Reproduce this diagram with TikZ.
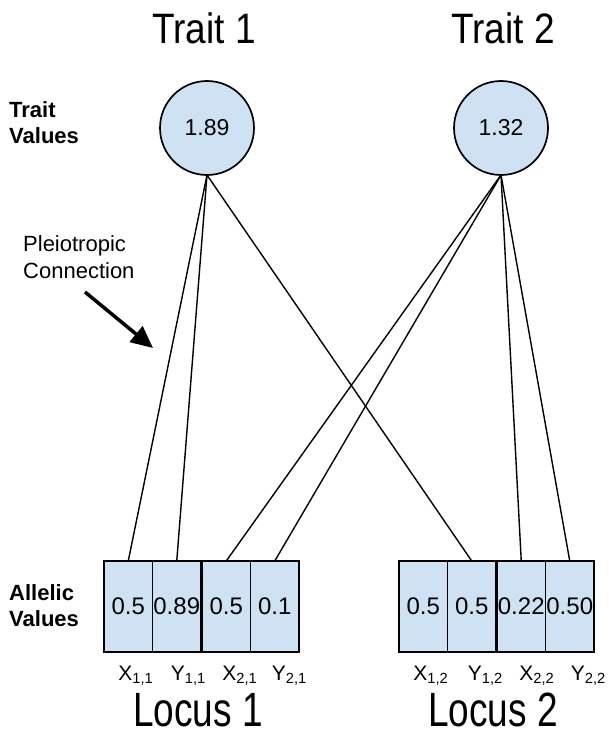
\documentclass[tikz,border=0pt]{standalone}
\usepackage{fontspec}
\setmainfont{Liberation Sans}
\usepackage{xcolor}
\usetikzlibrary{arrows.meta,positioning}
\definecolor{allelblue}{HTML}{CFE2F3}

\begin{document}
\begin{tikzpicture}[x=1pt,y=-1pt,
    trait/.style={circle,draw,line width=1.7pt,fill=allelblue,minimum size=94pt,inner sep=0pt,outer sep=0pt,font=\fontsize{23}{26}\selectfont},
    allele/.style={rectangle,draw,line width=1.7pt,fill=allelblue,minimum width=48.5pt,minimum height=91pt,inner sep=0pt,outer sep=0pt,font=\fontsize{24}{26}\selectfont},
    heading/.style={font=\fontsize{37}{40}\selectfont,inner sep=0pt},
    side/.style={font=\fontsize{22}{26}\bfseries\selectfont,align=left,anchor=west,inner sep=0pt},
    tag/.style={font=\fontsize{21}{24}\selectfont,anchor=base west,inner sep=0pt},
    link/.style={line width=1.4pt}]
\useasboundingbox (0,0) rectangle (609,738);

% trait side
\node[heading] (head1) at (204,28) {\scalebox{1}[1.15]{Trait 1}};
\node[heading] (head2) at (503,28) {\scalebox{1}[1.15]{Trait 2}};
\node[trait] (t1) at (207,128) {1.89};
\node[trait] (t2) at (501,128) {1.32};
\node[side] (tv) at (9,123) {Trait\\Values};

% allele boxes, locus 1
\node[allele] (x11) at (128.25,606.5) {0.5};
\node[allele,right=0pt of x11] (y11) {0.89};
\node[allele,right=1pt of y11] (x21) {0.5};
\node[allele,right=0pt of x21] (y21) {0.1};
% allele boxes, locus 2
\node[allele] (x12) at (423.25,606.5) {0.5};
\node[allele,right=0pt of x12] (y12) {0.5};
\node[allele,right=1pt of y12] (x22) {0.22};
\node[allele,right=0pt of x22] (y22) {0.50};
\node[side] (av) at (9,606) {Allelic\\Values};

% allele names
\node[tag] (lx11) at ([xshift=-10pt,yshift=-28pt]x11.south) {X\textsubscript{1,1}};
\node[tag] (ly11) at ([xshift=-6pt,yshift=-28pt]y11.south) {Y\textsubscript{1,1}};
\node[tag] (lx21) at ([xshift=-4pt,yshift=-28pt]x21.south) {X\textsubscript{2,1}};
\node[tag] (ly21) at ([xshift=-3pt,yshift=-28pt]y21.south) {Y\textsubscript{2,1}};
\node[tag] (lx12) at ([xshift=-10pt,yshift=-28pt]x12.south) {X\textsubscript{1,2}};
\node[tag] (ly12) at ([xshift=-4pt,yshift=-28pt]y12.south) {Y\textsubscript{1,2}};
\node[tag] (lx22) at ([xshift=-2pt,yshift=-28pt]x22.south) {X\textsubscript{2,2}};
\node[tag] (ly22) at ([xshift=1pt,yshift=-28pt]y22.south) {Y\textsubscript{2,2}};

\node[heading] (loc1) at (198,710) {\scalebox{1}[1.3]{Locus 1}};
\node[heading] (loc2) at (493,710) {\scalebox{1}[1.3]{Locus 2}};

% connections
\draw[link] (t1.south) -- (x11.north);
\draw[link] (t1.south) -- (y11.north);
\draw[link] (t1.south) -- (y12.north);
\draw[link] (t2.south) -- (x21.north);
\draw[link] (t2.south) -- (y21.north);
\draw[link] (t2.south) -- (x22.north);
\draw[link] (t2.south) -- (y22.north);

% pleiotropic note
\node[font=\fontsize{22}{27}\selectfont,align=left,anchor=north west,inner sep=0pt] (pleio) at (23,235) {Pleiotropic\\Connection};
\coordinate (ptail) at (85,292);
\coordinate (phead) at (153,348);
\draw[line width=3.5pt,-{Triangle[length=22pt,width=20pt]}] (ptail) -- (phead);
\end{tikzpicture}
\end{document}
